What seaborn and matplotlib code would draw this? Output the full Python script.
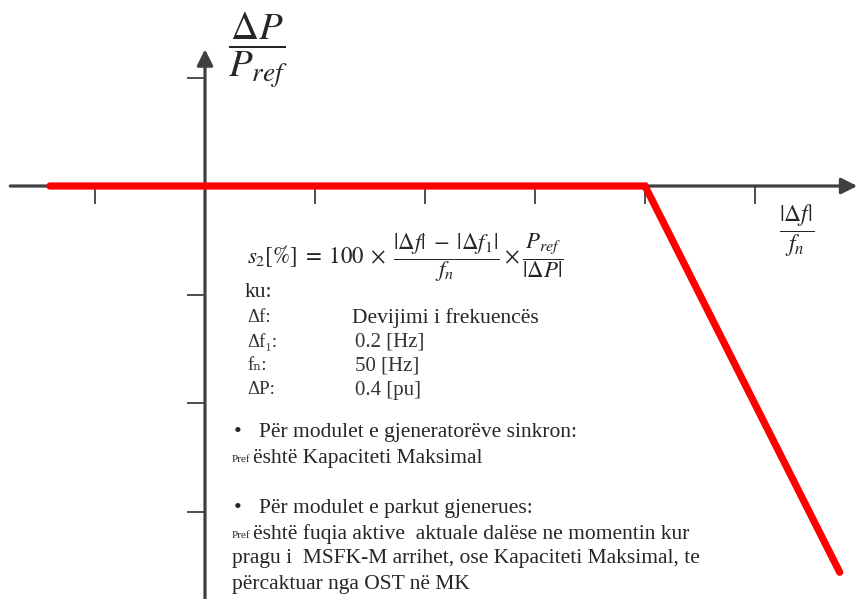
import matplotlib
matplotlib.use("Agg")
import matplotlib.pyplot as plt
import seaborn as sns
import pandas as pd

# droop characteristic (x in |df|/fn units, y in dP/Pref units)
line_x = [-1.41, 4.0, 5.77]
line_y = [0.0, 0.0, -3.56]

x_ticks = [-1, 1, 2, 3, 4, 5]
y_ticks = [1, -1, -2, -3]

x_axis = [-1.77, 5.93]
y_axis = [-3.9, 1.26]

list_labels = ["\u0394f:", "\u0394f\u2081:", "f\u2099:", "\u0394P:"]
list_values = ["Devijimi i frekuenc\u00ebs", "0.2 [Hz]", "50 [Hz]", "0.4 [pu]"]

bullet_heads = ["P\u00ebr modulet e gjenerator\u00ebve sinkron:",
                "P\u00ebr modulet e parkut gjenerues:"]
bullet_bodies = [["\u00ebsht\u00eb Kapaciteti Maksimal"],
                 ["\u00ebsht\u00eb fuqia aktive  aktuale dal\u00ebse ne momentin kur",
                  "pragu i  MSFK-M arrihet, ose Kapaciteti Maksimal, te",
                  "p\u00ebrcaktuar nga OST n\u00eb MK"]]

sns.set_theme(style="white")
plt.rcParams["font.family"] = ["Liberation Serif", "DejaVu Serif"]
plt.rcParams["mathtext.fontset"] = "stix"

W, H = 859, 599
fig = plt.figure(figsize=(W / 100, H / 100), dpi=100)
ax = fig.add_axes([0, 0, 1, 1])
ax.set_xlim(-205 / 110, (W - 205) / 110)
ax.set_ylim(-(H - 186) / 108.5, 186 / 108.5)

axis_col = "#404040"
for s in ax.spines.values():
    s.set_visible(False)
ax.spines["bottom"].set_position(("data", 0))
ax.spines["left"].set_position(("data", 0))
ax.set_xticks(x_ticks)
ax.set_yticks(y_ticks)
ax.set_xticklabels([])
ax.set_yticklabels([])
ax.tick_params(axis="x", direction="out", length=13, width=1.3, color=axis_col, bottom=True)
ax.tick_params(axis="y", direction="out", length=13, width=1.3, color=axis_col, left=True)

# axes with arrow heads
ax.annotate("", xy=(x_axis[1], 0), xytext=(x_axis[0], 0), annotation_clip=False,
            arrowprops=dict(arrowstyle="-|>", color=axis_col, lw=2.3,
                            mutation_scale=24, shrinkA=0, shrinkB=0))
ax.annotate("", xy=(0, y_axis[1]), xytext=(0, y_axis[0]), annotation_clip=False,
            arrowprops=dict(arrowstyle="-|>", color=axis_col, lw=2.3,
                            mutation_scale=24, shrinkA=0, shrinkB=0))

df = pd.DataFrame({"x": line_x, "y": line_y})
sns.lineplot(data=df, x="x", y="y", ax=ax, color="#ff0000", lw=5.2,
             sort=False, zorder=5, solid_capstyle="round", solid_joinstyle="miter")
ax.set_xlabel("")
ax.set_ylabel("")


def px(x, y):
    return x / W, 1 - y / H


fig.text(*px(258, 50), r"$\dfrac{\Delta P}{P_{ref}}$", fontsize=28,
         ha="center", va="center")
fig.text(*px(797, 231), r"$\dfrac{|\Delta f|}{f_n}$", fontsize=17,
         ha="center", va="center")
fig.text(*px(247, 258),
         r"$s_2[\%]\;=\;100\;\times\;\dfrac{|\Delta f|\;-\;|\Delta f_1|}{f_n}\times\dfrac{P_{ref}}{|\Delta P|}$",
         fontsize=16.5, ha="left", va="center")

fig.text(*px(245, 292), "ku:", fontsize=15.5, ha="left", va="center")
for i, (lab, val) in enumerate(zip(list_labels, list_values)):
    yy = 318 + 24 * i
    fig.text(*px(247, yy), lab, fontsize=13.5, ha="left", va="center", color="#333333")
    if i == 0:
        fig.text(*px(352, yy), val, fontsize=15.5, ha="left", va="center")
    else:
        fig.text(*px(355, yy), val, fontsize=15, ha="left", va="center", color="#333333")

starts = [433, 509]
for head, body, y0 in zip(bullet_heads, bullet_bodies, starts):
    fig.text(*px(234, y0), "\u2022", fontsize=16, ha="left", va="center")
    fig.text(*px(259, y0), head, fontsize=15.5, ha="left", va="center")
    for j, row in enumerate(body):
        yy = y0 + 25 * (j + 1)
        if j == 0:
            fig.text(*px(232, yy + 2), "Pref", fontsize=8, ha="left", va="center")
            fig.text(*px(253, yy), row, fontsize=15.5, ha="left", va="center")
        else:
            fig.text(*px(232, yy), row, fontsize=15.5, ha="left", va="center")

fig.savefig("out.png", dpi=100)
